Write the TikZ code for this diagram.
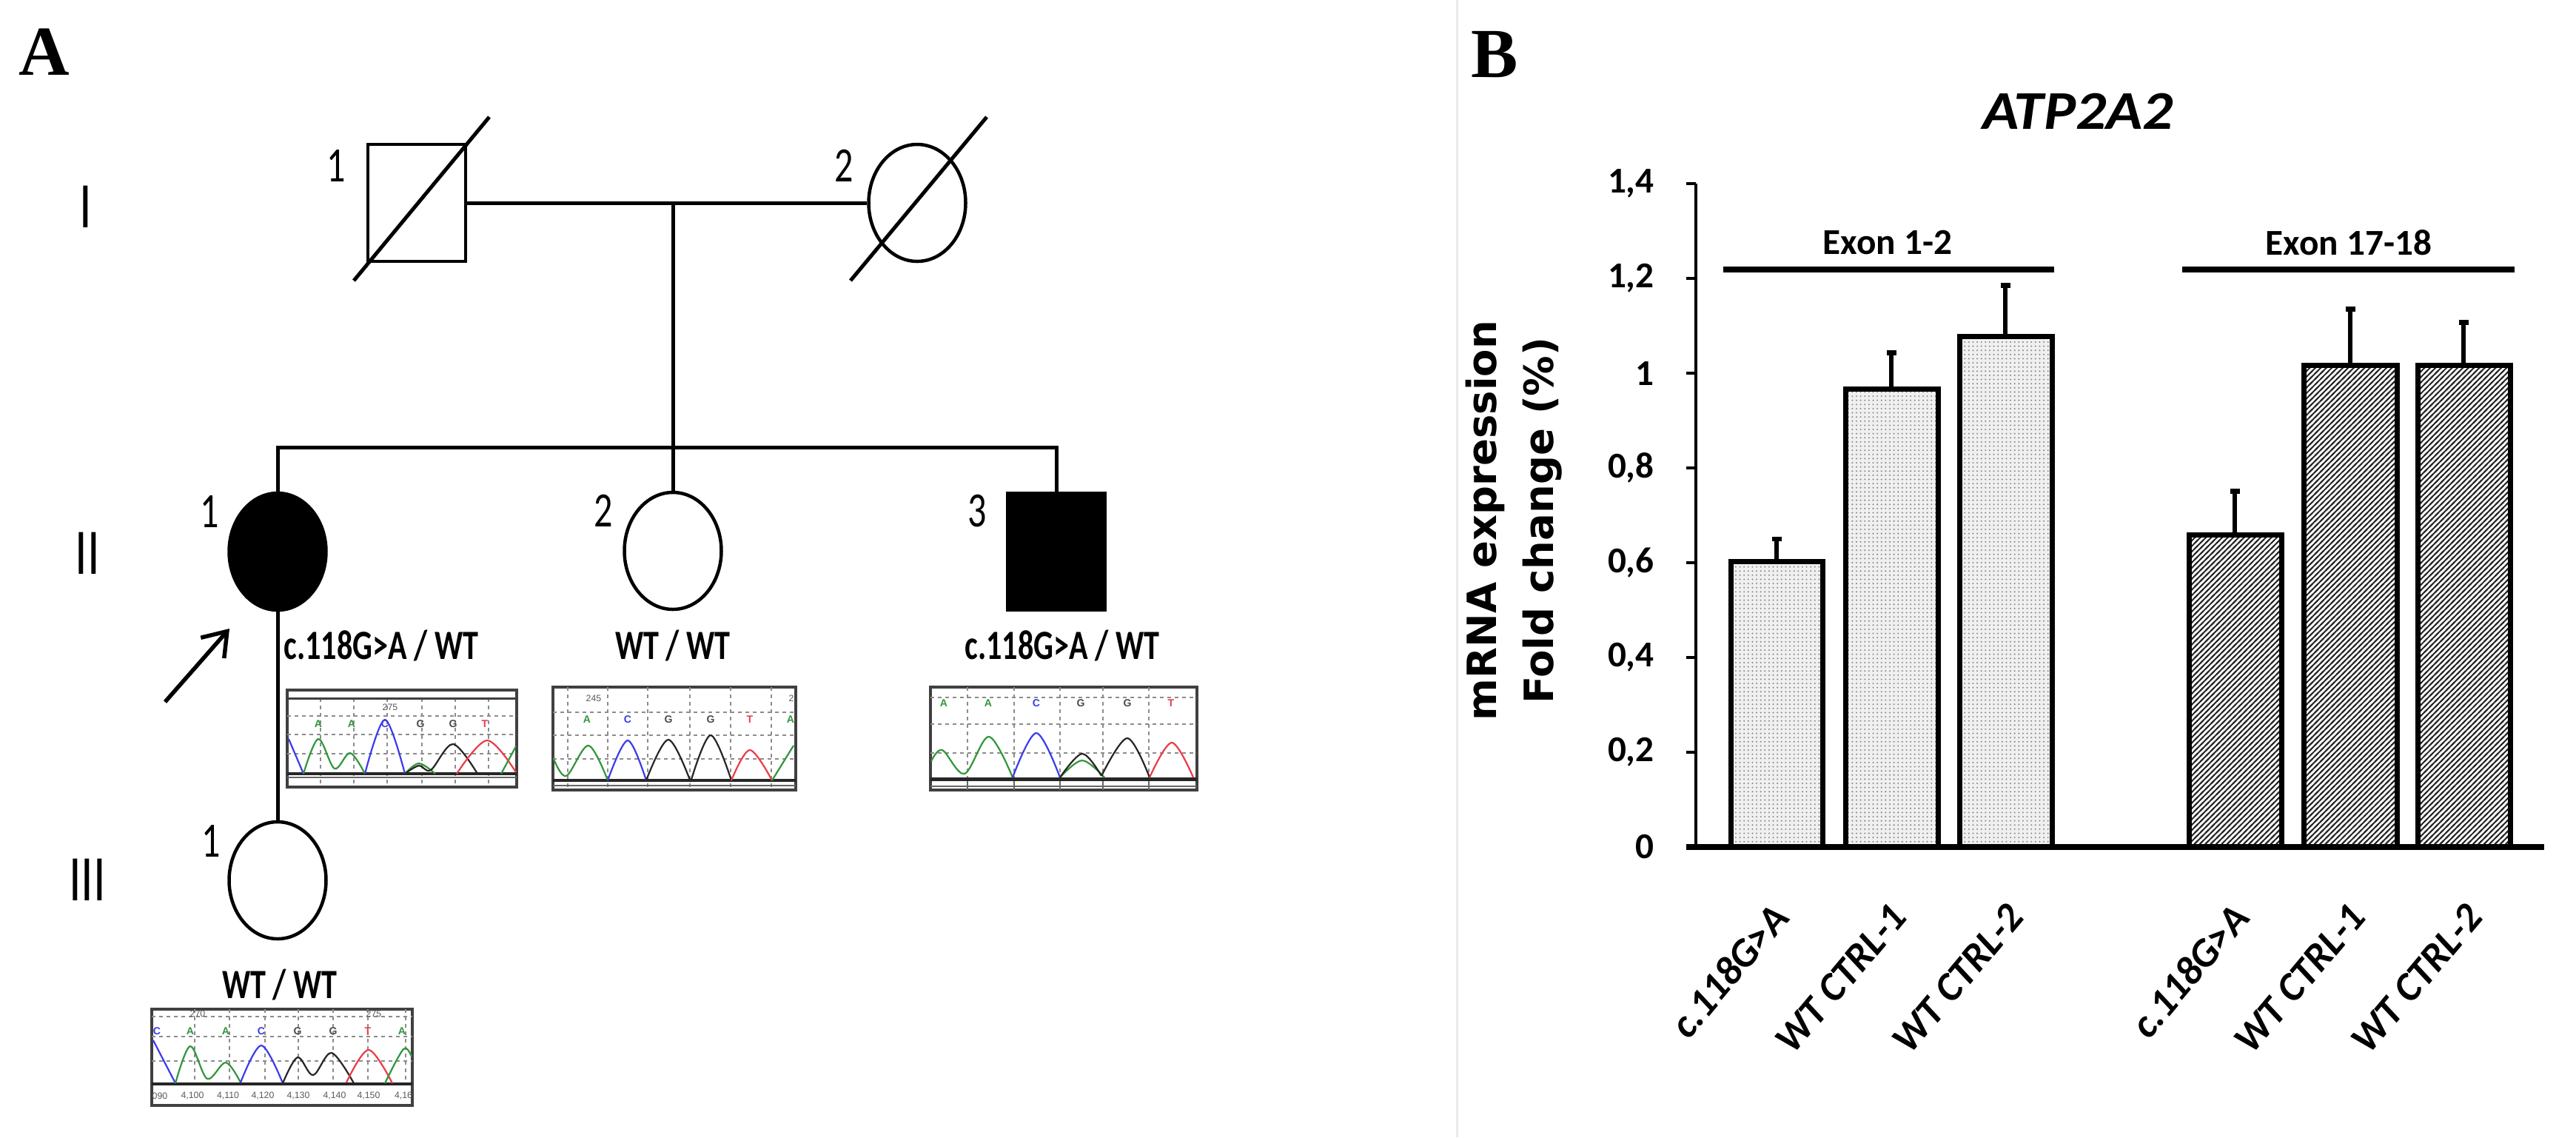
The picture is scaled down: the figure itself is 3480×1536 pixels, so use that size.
\documentclass[tikz,border=0pt]{standalone}
\usepackage{fontspec}
\setmainfont{Carlito}
\newfontfamily\timesbold{Liberation Serif}
\newfontfamily\wideface{DejaVu Sans}
\newfontfamily\traceface{Liberation Sans}
\usetikzlibrary{shapes.geometric,arrows.meta,patterns}

\definecolor{tgreen}{RGB}{50,150,60}
\definecolor{tblue}{RGB}{60,60,235}
\definecolor{tred}{RGB}{235,60,70}

\pgfdeclarepatternformonly{stipple}{\pgfqpoint{-1pt}{-1pt}}{\pgfqpoint{1pt}{1pt}}{\pgfqpoint{1.6pt}{1.6pt}}{\pgfpathcircle{\pgfpointorigin}{0.33pt}\pgfusepath{fill}}
\pgfdeclarepatternformonly{finehatch}{\pgfqpoint{-1pt}{-1pt}}{\pgfqpoint{3pt}{3pt}}{\pgfqpoint{2.1pt}{2.1pt}}{\pgfsetlinewidth{0.55pt}\pgfpathmoveto{\pgfqpoint{-0.6pt}{-0.6pt}}\pgfpathlineto{\pgfqpoint{2.7pt}{2.7pt}}\pgfusepath{stroke}}

\newcommand{\narrow}[1]{\scalebox{0.75}[1]{#1}}

\begin{document}
\begin{tikzpicture}[x=0.1mm, y=-0.1mm,
    ped/.style={line width=0.5mm},
    male/.style={rectangle, draw, line width=0.45mm, minimum width=13.2mm, minimum height=15.8mm, inner sep=0pt},
    female/.style={ellipse, draw, line width=0.45mm, minimum width=13.1mm, minimum height=15.8mm, inner sep=0pt},
    genlabel/.style={font=\fontsize{25}{25}\selectfont},
    idnum/.style={font=\fontsize{19}{19}\selectfont},
    genotype/.style={font=\bfseries\fontsize{16}{16}\selectfont},
    panellabel/.style={font=\timesbold\bfseries\fontsize{27}{27}\selectfont},
    tframe/.style={draw=black!75, line width=0.35mm, fill=white},
    tgrid/.style={draw=black!45, dash pattern=on 0.5mm off 0.5mm, line width=0.15mm},
    tbase/.style={font=\traceface\bfseries\fontsize{4}{4}\selectfont},
    tpos/.style={font=\traceface\fontsize{3.5}{3.5}\selectfont, text=black!65},
    peak/.style={line width=0.22mm, smooth, tension=0.55},
    axisline/.style={line width=0.45mm},
    zeroline/.style={line width=0.75mm},
    dotbar/.style={draw, line width=0.7mm, preaction={fill=black!6}, pattern=stipple, pattern color=black!45},
    hatchbar/.style={draw, line width=0.7mm, preaction={fill=white}, pattern=finehatch, pattern color=black!85},
    errbar/.style={line width=0.65mm, -{Bar[width=1.3mm]}},
    exonline/.style={line width=0.8mm},
    exonlabel/.style={font=\bfseries\fontsize{14}{14}\selectfont},
    ticklabel/.style={font=\bfseries\fontsize{14}{14}\selectfont, anchor=east},
    barlabel/.style={font=\bfseries\itshape\fontsize{15.5}{15.5}\selectfont, anchor=east, rotate=50},
    ylab/.style={font=\wideface\bfseries\fontsize{15.5}{22}\selectfont, align=center, rotate=90},
    charttitle/.style={font=\bfseries\itshape\fontsize{21}{21}\selectfont}]

   \useasboundingbox (0,0) rectangle (3480,1536);
   \fill[white] (0,0) rectangle (3480,1536);

   \node[panellabel] (A) at (60,70) {A};
   \node[panellabel] (B) at (2019,74) {B};

   \node[genlabel] (gI) at (116,279) {\narrow{I}};
   \node[genlabel] (gII) at (118,747) {\narrow{II}};
   \node[genlabel] (gIII) at (118,1188) {\narrow{III}};

   \node[male] (I1) at (563,274) {};
   \node[female] (I2) at (1239,274) {};
   \node[female, fill=black] (II1) at (375,745) {};
   \node[female] (II2) at (909,744) {};
   \node[male, fill=black] (II3) at (1427,745) {};
   \node[female] (III1) at (375,1189) {};

   \node[idnum] (nI1) at (454,224) {\narrow{1}};
   \node[idnum] (nI2) at (1140,224) {\narrow{2}};
   \node[idnum] (nII1) at (283,691) {\narrow{1}};
   \node[idnum] (nII2) at (815,690) {\narrow{2}};
   \node[idnum] (nII3) at (1320,690) {\narrow{3}};
   \node[idnum] (nIII1) at (285,1136) {\narrow{1}};

   \draw[ped] ([shift={(-85,105)}]I1.center) -- ([shift={(98,-116)}]I1.center);
   \draw[ped] ([shift={(-90,105)}]I2.center) -- ([shift={(94,-116)}]I2.center);

   \coordinate (mate) at (909,274);
   \coordinate (sib) at (909,604);
   \draw[ped] (I1) -- (I2);
   \draw[ped] (mate) -- (sib);
   \draw[ped] (II1.north) |- (sib) -| (II3.north);
   \draw[ped] (sib) -- (II2.north);
   \draw[ped] (II1.south) -- (III1.north);

   \coordinate (probtail) at (223,948);
   \coordinate (probtip) at (310,849);
   \draw[line width=0.55mm, -{Straight Barb[length=3mm, width=4.2mm]}] (probtail) -- (probtip);

   \node[genotype] (gt21) at (515,872) {\narrow{c.118G>A / WT}};
   \node[genotype] (gt22) at (909,872) {\narrow{WT / WT}};
   \node[genotype] (gt23) at (1435,872) {\narrow{c.118G>A / WT}};
   \node[genotype] (gt31) at (378,1330) {\narrow{WT / WT}};

   \draw[tframe] (388,932) rectangle (698,1063);
   \draw[tgrid] (388,967) -- (698,967) (388,992) -- (698,992) (388,1018) -- (698,1018);
   \draw[tgrid] (433,943) -- (433,1063) (478,943) -- (478,1063) (523,943) -- (523,1063) (570,943) -- (570,1063) (615,943) -- (615,1063) (660,943) -- (660,1063);
   \draw[black!75, line width=0.3mm] (388,943) -- (698,943);
   \draw[black!85, line width=0.45mm] (388,1045) -- (698,1045);
   \draw[black!60, line width=0.2mm] (388,1050) -- (698,1050);
   \node[tpos] at (527,955) {275};
   \node[tbase, text=tgreen] at (430,978) {A};
   \node[tbase, text=tgreen] at (475,978) {A};
   \node[tbase, text=tblue] at (520,978) {C};
   \node[tbase, text=black!70] at (568,978) {G};
   \node[tbase, text=black!70] at (612,978) {G};
   \node[tbase, text=tred] at (655,978) {T};
   \draw[peak, tblue] plot coordinates {(390,998) (410,1045)};
   \draw[peak, tgreen] plot coordinates {(410,1045) (430,998) (452,1038) (473,1017) (493,1045)};
   \draw[peak, tblue] plot coordinates {(493,1045) (520,972) (547,1045)};
   \draw[peak, tgreen] plot coordinates {(547,1045) (566,1031) (588,1045)};
   \draw[peak, black!85] plot coordinates {(547,1045) (566,1034) (582,1040) (612,1005) (645,1045)};
   \draw[peak, tred] plot coordinates {(617,1045) (658,1000) (697,1043)};
   \draw[peak, tgreen] plot coordinates {(677,1045) (697,1008)};

   \draw[tframe] (747,928) rectangle (1075,1067);
   \draw[tgrid] (747,962) -- (1075,962) (747,993) -- (1075,993) (747,1025) -- (1075,1025);
   \draw[tgrid] (767,928) -- (767,1067) (821,928) -- (821,1067) (875,928) -- (875,1067) (932,928) -- (932,1067) (987,928) -- (987,1067) (1042,928) -- (1042,1067);
   \draw[black!85, line width=0.45mm] (747,1054) -- (1075,1054);
   \draw[black!60, line width=0.2mm] (747,1061) -- (1075,1061);
   \node[tpos] at (802,943) {245};
   \node[tpos] at (1069,943) {2};
   \node[tbase, text=tgreen] at (793,972) {A};
   \node[tbase, text=tblue] at (848,972) {C};
   \node[tbase, text=black!70] at (903,972) {G};
   \node[tbase, text=black!70] at (960,972) {G};
   \node[tbase, text=tred] at (1013,972) {T};
   \node[tbase, text=tgreen] at (1068,972) {A};
   \draw[peak, tgreen] plot coordinates {(748,1025) (765,1048) (795,1007) (821,1054)};
   \draw[peak, tblue] plot coordinates {(821,1054) (848,1000) (873,1054)};
   \draw[peak, black!85] plot coordinates {(873,1054) (903,999) (933,1056)};
   \draw[peak, black!85] plot coordinates {(933,1056) (960,993) (988,1054)};
   \draw[peak, tred] plot coordinates {(988,1054) (1013,1013) (1043,1054)};
   \draw[peak, tgreen] plot coordinates {(1043,1054) (1072,1007)};

   \draw[tframe] (1257,928) rectangle (1617,1067);
   \draw[tgrid] (1257,942) -- (1617,942) (1257,978) -- (1617,978) (1257,1017) -- (1617,1017);
   \draw[tgrid] (1307,928) -- (1307,1052) (1370,928) -- (1370,1052) (1432,928) -- (1432,1052) (1490,928) -- (1490,1052) (1552,928) -- (1552,1052);
   \draw[black!60, line width=0.2mm] (1307,1052) -- (1307,1067) (1370,1052) -- (1370,1067) (1432,1052) -- (1432,1067) (1490,1052) -- (1490,1067) (1552,1052) -- (1552,1067);
   \draw[black!85, line width=0.5mm] (1257,1052) -- (1617,1052);
   \draw[black!60, line width=0.2mm] (1257,1062) -- (1617,1062);
   \node[tbase, text=tgreen] at (1275,950) {A};
   \node[tbase, text=tgreen] at (1335,950) {A};
   \node[tbase, text=tblue] at (1400,950) {C};
   \node[tbase, text=black!70] at (1460,950) {G};
   \node[tbase, text=black!70] at (1523,950) {G};
   \node[tbase, text=tred] at (1582,950) {T};
   \draw[peak, tgreen] plot coordinates {(1258,1028) (1273,1013) (1303,1045) (1336,995) (1368,1050)};
   \draw[peak, tblue] plot coordinates {(1368,1050) (1400,990) (1432,1050)};
   \draw[peak, tgreen] plot coordinates {(1432,1050) (1462,1027) (1492,1050)};
   \draw[peak, black!85] plot coordinates {(1432,1050) (1462,1018) (1488,1048)};
   \draw[peak, black!85] plot coordinates {(1488,1048) (1523,997) (1553,1050)};
   \draw[peak, tred] plot coordinates {(1553,1050) (1583,1003) (1612,1050)};

   \draw[tframe] (205,1363) rectangle (557,1493);
   \draw[tgrid] (205,1373) -- (557,1373) (205,1400) -- (557,1400) (205,1433) -- (557,1433);
   \draw[tgrid] (263,1363) -- (263,1464) (310,1363) -- (310,1464) (358,1363) -- (358,1464) (403,1363) -- (403,1464) (450,1363) -- (450,1464) (497,1363) -- (497,1464) (548,1363) -- (548,1464);
   \draw[black!85, line width=0.45mm] (205,1464) -- (557,1464);
   \node[tpos] at (267,1369) {270};
   \node[tpos] at (505,1369) {275};
   \node[tbase, text=tblue] at (212,1393) {C};
   \node[tbase, text=tgreen] at (257,1393) {A};
   \node[tbase, text=tgreen] at (305,1393) {A};
   \node[tbase, text=tblue] at (353,1393) {C};
   \node[tbase, text=black!70] at (402,1393) {G};
   \node[tbase, text=black!70] at (450,1393) {G};
   \node[tbase, text=tred] at (497,1393) {T};
   \node[tbase, text=tgreen] at (543,1393) {A};
   \node[tpos] at (216,1480) {090};
   \node[tpos] at (260,1480) {4,100};
   \node[tpos] at (308,1480) {4,110};
   \node[tpos] at (355,1480) {4,120};
   \node[tpos] at (403,1480) {4,130};
   \node[tpos] at (452,1480) {4,140};
   \node[tpos] at (498,1480) {4,150};
   \node[tpos] at (545,1480) {4,16};
   \draw[peak, tblue] plot coordinates {(207,1405) (237,1463)};
   \draw[peak, tgreen] plot coordinates {(237,1463) (257,1413) (280,1457) (305,1435) (325,1462)};
   \draw[peak, tblue] plot coordinates {(325,1462) (353,1412) (382,1463)};
   \draw[peak, black!85] plot coordinates {(382,1463) (402,1428) (423,1452) (448,1422) (478,1463)};
   \draw[peak, tred] plot coordinates {(468,1462) (498,1418) (530,1463)};
   \draw[peak, tgreen] plot coordinates {(520,1463) (545,1417) (556,1427)};

   \draw[black!8, line width=0.3mm] (1968,0) -- (1968,1536);

   \node[charttitle] (title) at (2807,150) {\scalebox{1.1}[1]{ATP2A2}};
   \node[ylab] (ylabel) at (2045,703) {mRNA expression\\Fold change (\%)};

   \begin{scope}[shift={(2291,1144)}, y=64mm]
    \draw[dotbar] (47,0) rectangle (171,0.603);
    \draw[dotbar] (202,0) rectangle (327,0.967);
    \draw[dotbar] (356,0) rectangle (481,1.078);
    \draw[hatchbar] (666,0) rectangle (791,0.658);
    \draw[hatchbar] (821,0) rectangle (947,1.017);
    \draw[hatchbar] (975,0) rectangle (1100,1.017);

    \draw[errbar] (109,0.603) -- (109,0.655);
    \draw[errbar] (264,0.967) -- (264,1.048);
    \draw[errbar] (418,1.078) -- (418,1.19);
    \draw[errbar] (728,0.658) -- (728,0.756);
    \draw[errbar] (884,1.017) -- (884,1.14);
    \draw[errbar] (1037,1.017) -- (1037,1.112);

    \draw[axisline] (0,0) -- (0,1.4);
    \draw[axisline] (-13,1.4) -- (0,1.4) (-13,1.2) -- (0,1.2) (-13,1) -- (0,1) (-13,0.8) -- (0,0.8) (-13,0.6) -- (0,0.6) (-13,0.4) -- (0,0.4) (-13,0.2) -- (0,0.2);
    \draw[zeroline] (-13,0) -- (1146,0);

    \node[ticklabel] (t14) at (-44,1.4) {1,4};
    \node[ticklabel] (t12) at (-44,1.2) {1,2};
    \node[ticklabel] (t10) at (-44,1) {1};
    \node[ticklabel] (t08) at (-44,0.8) {0,8};
    \node[ticklabel] (t06) at (-44,0.6) {0,6};
    \node[ticklabel] (t04) at (-44,0.4) {0,4};
    \node[ticklabel] (t02) at (-44,0.2) {0,2};
    \node[ticklabel] (t00) at (-44,0) {0};

    \draw[exonline] (37,1.219) -- (484,1.219);
    \draw[exonline] (657,1.219) -- (1106,1.219);
    \node[exonlabel] (exon12) at (259,1.275) {Exon 1-2};
    \node[exonlabel] (exon1718) at (882,1.275) {Exon 17-18};

    \node[barlabel] (xl1) at (122,-0.118) {c.118G>A};
    \node[barlabel] (xl2) at (282,-0.118) {WT CTRL-1};
    \node[barlabel] (xl3) at (440,-0.118) {WT CTRL-2};
    \node[barlabel] (xl4) at (744,-0.118) {c.118G>A};
    \node[barlabel] (xl5) at (902,-0.118) {WT CTRL-1};
    \node[barlabel] (xl6) at (1060,-0.118) {WT CTRL-2};
   \end{scope}

 \end{tikzpicture}
\end{document}
